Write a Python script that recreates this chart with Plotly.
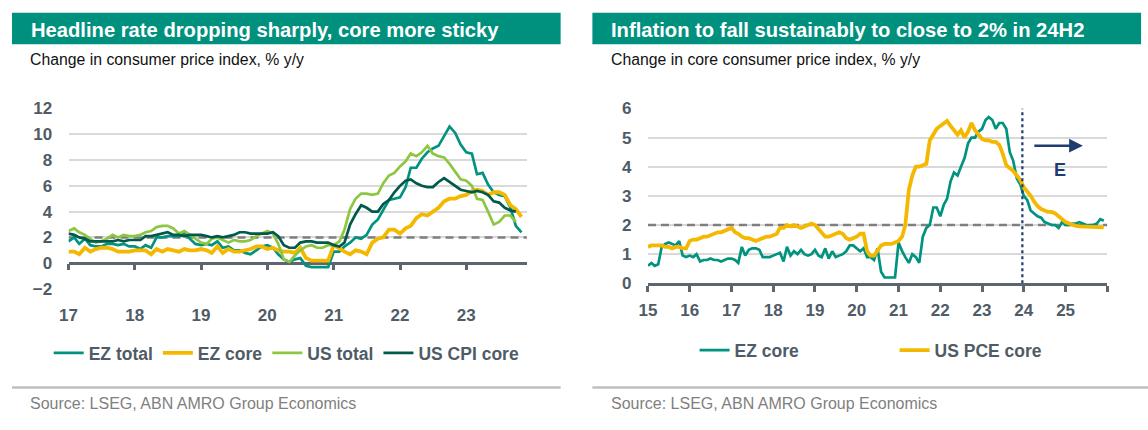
import plotly.graph_objects as go
import pandas as pd

W, H = 1148, 430
FONT = "Liberation Sans, Arial, sans-serif"

# ---------------- data: left chart (monthly, from Jan 2017) ----------------
LEFT_START = "2017-01-01"
EZ_TOTAL = [1.7, 2.0, 1.5, 1.9, 1.4, 1.3, 1.3, 1.5, 1.5, 1.4, 1.5, 1.3,
            1.3, 1.1, 1.4, 1.2, 2.0, 2.0, 2.1, 2.1, 2.1, 2.3, 1.9, 1.5,
            1.4, 1.5, 1.4, 1.7, 1.2, 1.3, 1.0, 1.0, 0.8, 0.7, 1.0, 1.3,
            1.4, 1.2, 0.7, 0.3, 0.1, 0.3, 0.4, -0.2, -0.3, -0.3, -0.3, -0.3,
            0.9, 0.9, 1.3, 1.6, 2.0, 1.9, 2.2, 3.0, 3.4, 4.1, 4.9, 5.0,
            5.1, 5.9, 7.4, 7.4, 8.1, 8.6, 8.9, 9.1, 9.9, 10.6, 10.1, 9.2,
            8.6, 8.5, 6.9, 7.0, 6.1, 5.5, 5.3, 5.2, 4.3, 2.9, 2.4]
EZ_CORE = [0.9, 0.9, 0.7, 1.2, 0.9, 1.1, 1.2, 1.2, 1.1, 0.9, 0.9, 0.9,
           1.0, 1.0, 1.0, 0.7, 1.1, 0.9, 1.1, 1.0, 0.9, 1.1, 1.0, 1.0,
           1.1, 1.0, 0.8, 1.3, 0.8, 1.1, 0.9, 0.9, 1.0, 1.1, 1.3, 1.3,
           1.1, 1.2, 1.0, 0.9, 0.9, 0.8, 1.2, 0.4, 0.2, 0.2, 0.2, 0.2,
           1.4, 1.1, 0.9, 0.7, 1.0, 0.9, 0.7, 1.6, 1.9, 2.0, 2.6, 2.6,
           2.3, 2.7, 2.9, 3.5, 3.8, 3.7, 4.0, 4.3, 4.8, 5.0, 5.0, 5.2,
           5.3, 5.6, 5.7, 5.6, 5.3, 5.5, 5.5, 5.3, 4.5, 4.2, 3.6]
US_TOTAL = [2.5, 2.7, 2.4, 2.2, 1.9, 1.6, 1.7, 1.9, 2.2, 2.0, 2.2, 2.1,
            2.1, 2.2, 2.4, 2.5, 2.8, 2.9, 2.9, 2.7, 2.3, 2.5, 2.2, 1.9,
            1.6, 1.5, 1.9, 2.0, 1.8, 1.6, 1.8, 1.7, 1.7, 1.8, 2.1, 2.3,
            2.5, 2.3, 1.5, 0.3, 0.1, 0.6, 1.0, 1.3, 1.4, 1.2, 1.2, 1.4,
            1.4, 1.7, 2.6, 4.2, 5.0, 5.4, 5.4, 5.3, 5.4, 6.2, 6.8, 7.0,
            7.5, 7.9, 8.5, 8.3, 8.6, 9.1, 8.5, 8.3, 8.2, 7.7, 7.1, 6.5,
            6.4, 6.0, 5.0, 4.9, 4.0, 3.0, 3.2, 3.7, 3.7, 3.2]
US_CPI_CORE = [2.3, 2.2, 2.0, 1.9, 1.7, 1.7, 1.7, 1.7, 1.7, 1.8, 1.7, 1.8,
               1.8, 1.8, 2.1, 2.1, 2.2, 2.3, 2.4, 2.2, 2.2, 2.1, 2.2, 2.2,
               2.2, 2.1, 2.0, 2.1, 2.0, 2.1, 2.2, 2.4, 2.4, 2.3, 2.3, 2.3,
               2.3, 2.4, 2.1, 1.4, 1.2, 1.2, 1.6, 1.7, 1.7, 1.6, 1.6, 1.6,
               1.4, 1.3, 1.6, 3.0, 3.8, 4.5, 4.3, 4.0, 4.0, 4.6, 4.9, 5.5,
               6.0, 6.4, 6.5, 6.2, 6.0, 5.9, 5.9, 6.3, 6.6, 6.3, 6.0, 5.7,
               5.6, 5.5, 5.6, 5.5, 5.3, 4.8, 4.7, 4.3, 4.1, 4.0]
LEFT_RANGE = ["2017-01-01", "2023-12-01"]
LEFT_YEARS = ["2017-01-01", "2018-01-01", "2019-01-01", "2020-01-01",
              "2021-01-01", "2022-01-01", "2023-01-01"]
LEFT_YEAR_LABELS = ["17", "18", "19", "20", "21", "22", "23"]
LEFT_YTICKS = [-2, 0, 2, 4, 6, 8, 10, 12]

# ---------------- data: right chart (monthly, from Jan 2015) ----------------
RIGHT_START = "2015-01-01"
EZ_CORE_R = [0.6, 0.7, 0.6, 0.65, 1.25, 1.35, 1.4, 1.35, 1.3, 1.45, 0.95, 0.9,
             0.95, 0.9, 1.0, 0.75, 0.8, 0.8, 0.85, 0.8, 0.8, 0.75, 0.8, 0.85,
             0.85, 0.8, 0.7, 1.25, 0.95, 1.15, 1.2, 1.2, 1.15, 0.9, 0.9, 0.9,
             0.95, 1.0, 1.05, 0.75, 1.25, 0.95, 1.1, 1.0, 1.15, 1.0, 0.95, 1.0,
             1.15, 0.95, 0.9, 1.2, 0.85, 1.1, 0.9, 0.95, 1.0, 1.1, 1.3, 1.3,
             1.2, 1.1, 1.2, 0.9, 0.9, 0.8, 1.2, 0.4, 0.2, 0.2, 0.2, 0.2,
             1.4, 1.1, 0.9, 0.7, 1.0, 0.9, 0.7, 1.6, 1.9, 2.0, 2.6, 2.6,
             2.3, 2.7, 2.9, 3.5, 3.8, 3.7, 4.0, 4.3, 4.8, 5.0, 5.0, 5.2,
             5.3, 5.6, 5.7, 5.6, 5.3, 5.5, 5.5, 5.3, 4.5, 4.2, 3.6, 3.4,
             3.0, 2.85, 2.5, 2.4, 2.3, 2.25, 2.1, 2.05, 2.0, 2.0, 1.9, 2.1,
             2.0, 2.0, 2.05, 2.05, 2.1, 2.05, 2.0, 2.0, 2.0, 2.05, 2.2, 2.15]
US_PCE_CORE = [1.25, 1.3, 1.3, 1.3, 1.3, 1.25, 1.25, 1.2, 1.25, 1.25, 1.2, 1.2,
               1.45, 1.5, 1.5, 1.55, 1.6, 1.6, 1.65, 1.7, 1.75, 1.75, 1.8, 1.85,
               1.9, 1.75, 1.7, 1.6, 1.55, 1.55, 1.5, 1.45, 1.5, 1.55, 1.6, 1.6,
               1.65, 1.7, 1.9, 1.9, 2.0, 1.95, 2.0, 1.95, 1.9, 1.95, 2.0, 2.05,
               2.0, 1.85, 1.7, 1.6, 1.6, 1.65, 1.7, 1.75, 1.7, 1.55, 1.5, 1.55,
               1.6, 1.7, 1.7, 1.1, 0.95, 0.95, 1.1, 1.3, 1.35, 1.35, 1.35, 1.4,
               1.45, 1.6, 2.0, 3.2, 3.7, 4.0, 4.0, 4.05, 4.1, 4.9, 5.1, 5.3,
               5.4, 5.5, 5.57, 5.4, 5.25, 5.1, 5.25, 5.0, 5.2, 5.5, 5.25, 5.1,
               4.95, 4.9, 4.9, 4.85, 4.85, 4.75, 4.45, 4.05, 3.95, 3.85, 3.7, 3.55,
               3.3, 3.15, 3.0, 2.8, 2.65, 2.55, 2.5, 2.45, 2.45, 2.4, 2.3, 2.2,
               2.1, 2.05, 2.0, 1.97, 1.95, 1.95, 1.93, 1.92, 1.92, 1.92, 1.92, 1.92]
RIGHT_RANGE = ["2015-01-01", "2026-01-01"]
RIGHT_YEARS = ["2015-01-01", "2016-01-01", "2017-01-01", "2018-01-01",
               "2019-01-01", "2020-01-01", "2021-01-01", "2022-01-01",
               "2023-01-01", "2024-01-01", "2025-01-01", "2026-01-01"]
RIGHT_YEAR_LABELS = ["15", "16", "17", "18", "19", "20", "21", "22", "23",
                     "24", "25", ""]
RIGHT_YTICKS = [0, 1, 2, 3, 4, 5, 6]

TARGET = 2.0
FORECAST_START = "2023-12-20"
ARROW_Y = 4.72
ARROW_END = "2025-06-01"
E_LABEL_X = "2024-11-15"
E_LABEL_Y = 3.87

# ---------------- styles ----------------
C_TEAL = "#00937f"
C_YELLOW = "#f5b800"
C_LGREEN = "#8dc641"
C_DGREEN = "#005a4b"
C_BAR = "#00917e"
C_TICK = "#4f5b66"
C_AXIS = "#5c6670"
C_GRID = "#d9d9d9"
C_DASH = "#7f7f7f"
C_NAVY = "#1f3c70"
C_SEP = "#bfbfbf"


def px(x):
    return x / W


def py(y):
    return 1 - y / H


ez_dates_l = pd.date_range(LEFT_START, periods=len(EZ_TOTAL), freq="MS")
us_dates_l = pd.date_range(LEFT_START, periods=len(US_TOTAL), freq="MS")
dates_r = pd.date_range(RIGHT_START, periods=len(EZ_CORE_R), freq="MS")

fig = go.Figure()

# target reference lines
fig.add_trace(go.Scatter(x=LEFT_RANGE, y=[TARGET, TARGET], mode="lines",
                         line=dict(color=C_DASH, width=2.5, dash="8px,5px"),
                         showlegend=False, hoverinfo="skip", xaxis="x", yaxis="y"))
fig.add_trace(go.Scatter(x=RIGHT_RANGE, y=[TARGET, TARGET], mode="lines",
                         line=dict(color=C_DASH, width=2.5, dash="8px,5px"),
                         showlegend=False, hoverinfo="skip", xaxis="x2", yaxis="y2"))

# left series
fig.add_trace(go.Scatter(x=ez_dates_l, y=EZ_TOTAL, name="EZ total", mode="lines",
                         line=dict(color=C_TEAL, width=2.7), legend="legend",
                         xaxis="x", yaxis="y"))
fig.add_trace(go.Scatter(x=ez_dates_l, y=EZ_CORE, name="EZ core", mode="lines",
                         line=dict(color=C_YELLOW, width=3.8), legend="legend",
                         xaxis="x", yaxis="y"))
fig.add_trace(go.Scatter(x=us_dates_l, y=US_TOTAL, name="US total", mode="lines",
                         line=dict(color=C_LGREEN, width=2.7), legend="legend",
                         xaxis="x", yaxis="y"))
fig.add_trace(go.Scatter(x=us_dates_l, y=US_CPI_CORE, name="US CPI core", mode="lines",
                         line=dict(color=C_DGREEN, width=2.7), legend="legend",
                         xaxis="x", yaxis="y"))
# empty trace to realise the zero-line tick axis
fig.add_trace(go.Scatter(x=[], y=[], mode="lines", showlegend=False,
                         hoverinfo="skip", xaxis="x3", yaxis="y"))

# right series
fig.add_trace(go.Scatter(x=dates_r, y=EZ_CORE_R, name="EZ core", mode="lines",
                         line=dict(color=C_TEAL, width=2.7), legend="legend2",
                         xaxis="x2", yaxis="y2"))
fig.add_trace(go.Scatter(x=dates_r, y=US_PCE_CORE, name="US PCE core", mode="lines",
                         line=dict(color=C_YELLOW, width=3.8), legend="legend2",
                         xaxis="x2", yaxis="y2"))

tickfont = dict(family=FONT, size=17, color=C_TICK, weight="bold")

ly0, ly1 = py(293), py(104)
ry0, ry1 = py(287), py(104)
zero_pos = ly0 + (ly1 - ly0) * (0 - LEFT_YTICKS[0]) / (LEFT_YTICKS[-1] - LEFT_YTICKS[0])

fig.update_layout(
    width=W, height=H, margin=dict(l=0, r=0, t=0, b=0),
    paper_bgcolor="white", plot_bgcolor="white",
    font=dict(family=FONT),
    xaxis=dict(domain=[px(60), px(522)], anchor="y", type="date", range=LEFT_RANGE,
               tickvals=LEFT_YEARS, ticktext=LEFT_YEAR_LABELS, showgrid=False,
               zeroline=False, showline=False, ticks="outside", ticklen=11,
               tickcolor="rgba(0,0,0,0)", tickfont=tickfont),
    xaxis3=dict(overlaying="x", anchor="free", position=zero_pos, type="date",
                range=LEFT_RANGE, tickvals=LEFT_YEARS, showticklabels=False,
                showgrid=False, zeroline=False, showline=False, ticks="outside",
                ticklen=6, tickwidth=2.5, tickcolor=C_AXIS),
    yaxis=dict(domain=[ly0, ly1], anchor="x", range=[LEFT_YTICKS[0], LEFT_YTICKS[-1]],
               tickvals=LEFT_YTICKS, showgrid=True, gridcolor=C_GRID, gridwidth=1.5,
               zeroline=True, zerolinecolor=C_AXIS, zerolinewidth=2.5,
               showline=False, ticks="outside", ticklen=12,
               tickcolor="rgba(0,0,0,0)", tickfont=tickfont),
    xaxis2=dict(domain=[px(644), px(1107)], anchor="y2", type="date", range=RIGHT_RANGE,
                tickvals=RIGHT_YEARS, ticktext=RIGHT_YEAR_LABELS, showgrid=False,
                zeroline=False, showline=True, linecolor=C_AXIS, linewidth=2.5,
                ticks="outside", ticklen=6, tickwidth=2.5, tickcolor=C_AXIS,
                ticklabelstandoff=4, tickfont=tickfont),
    yaxis2=dict(domain=[ry0, ry1], anchor="x2", range=[RIGHT_YTICKS[0], RIGHT_YTICKS[-1]],
                tickvals=RIGHT_YTICKS, showgrid=True, gridcolor=C_GRID, gridwidth=1.5,
                zeroline=False, showline=False, ticks="outside", ticklen=12,
                tickcolor="rgba(0,0,0,0)", tickfont=tickfont),
    legend=dict(orientation="h", x=px(40), xanchor="left", y=py(360), yanchor="middle",
                font=dict(family=FONT, size=17.5, color=C_TICK, weight="bold"),
                bgcolor="rgba(0,0,0,0)", traceorder="normal"),
    legend2=dict(orientation="h", x=px(691), xanchor="left", y=py(357), yanchor="middle",
                 font=dict(family=FONT, size=17.5, color=C_TICK, weight="bold"),
                 bgcolor="rgba(0,0,0,0)", traceorder="normal",
                 entrywidth=155, entrywidthmode="pixels"),
    showlegend=True,
)

shapes = [
    # title bars
    dict(type="rect", xref="paper", yref="paper", x0=px(3), x1=px(556),
         y0=py(37), y1=py(4), fillcolor=C_BAR, line=dict(width=0), layer="below"),
    dict(type="rect", xref="paper", yref="paper", x0=px(588), x1=px(1141),
         y0=py(37), y1=py(4), fillcolor=C_BAR, line=dict(width=0), layer="below"),
    # separators
    dict(type="line", xref="paper", yref="paper", x0=px(3), x1=px(556),
         y0=py(396), y1=py(396), line=dict(color=C_SEP, width=2.5)),
    dict(type="line", xref="paper", yref="paper", x0=px(588), x1=px(1148),
         y0=py(396), y1=py(396), line=dict(color=C_SEP, width=2.5)),
    # forecast start
    dict(type="line", xref="x2", yref="y2", x0=FORECAST_START, x1=FORECAST_START,
         y0=RIGHT_YTICKS[0], y1=RIGHT_YTICKS[-1],
         line=dict(color=C_NAVY, width=2.2, dash="dot")),
]
fig.update_layout(shapes=shapes)

annotations = [
    dict(text="Headline rate dropping sharply, core more sticky", xref="paper", yref="paper",
         x=px(20), y=py(22), xanchor="left", yanchor="middle", showarrow=False,
         font=dict(family=FONT, size=20.2, color="white", weight="bold")),
    dict(text="Inflation to fall sustainably to close to 2% in 24H2", xref="paper", yref="paper",
         x=px(605), y=py(22), xanchor="left", yanchor="middle", showarrow=False,
         font=dict(family=FONT, size=20.2, color="white", weight="bold")),
    dict(text="Change in consumer price index, % y/y", xref="paper", yref="paper",
         x=px(19), y=py(53), xanchor="left", yanchor="middle", showarrow=False,
         font=dict(family=FONT, size=15.8, color="#111111")),
    dict(text="Change in core consumer price index, % y/y", xref="paper", yref="paper",
         x=px(605), y=py(53), xanchor="left", yanchor="middle", showarrow=False,
         font=dict(family=FONT, size=15.8, color="#111111")),
    dict(text="Source: LSEG, ABN AMRO Group Economics", xref="paper", yref="paper",
         x=px(19), y=py(413), xanchor="left", yanchor="middle", showarrow=False,
         font=dict(family=FONT, size=16, color="#7f7f7f")),
    dict(text="Source: LSEG, ABN AMRO Group Economics", xref="paper", yref="paper",
         x=px(605), y=py(413), xanchor="left", yanchor="middle", showarrow=False,
         font=dict(family=FONT, size=16, color="#7f7f7f")),
    dict(text="", xref="x2", yref="y2", x=ARROW_END, y=ARROW_Y, axref="pixel", ayref="pixel",
         ax=-50, ay=0, showarrow=True, arrowhead=2, arrowsize=1.1, arrowwidth=2.5,
         arrowcolor=C_NAVY),
    dict(text="E", xref="x2", yref="y2", x=E_LABEL_X, y=E_LABEL_Y, showarrow=False,
         xanchor="center", yanchor="middle",
         font=dict(family=FONT, size=18, color=C_NAVY, weight="bold")),
]
fig.update_layout(annotations=annotations)

fig.write_html("out.html")
